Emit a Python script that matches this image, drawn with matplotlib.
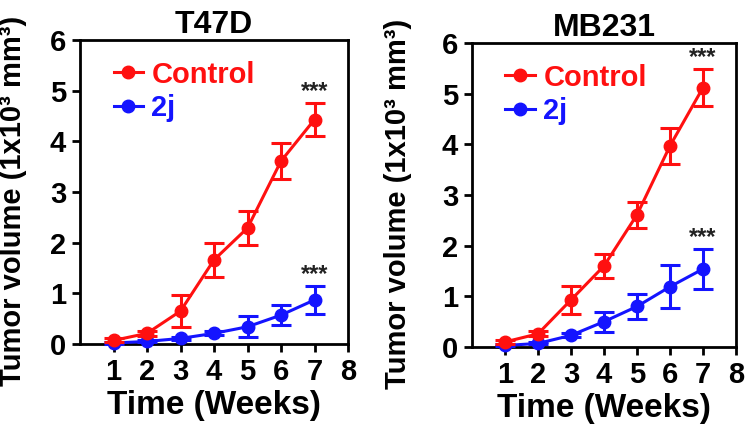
import matplotlib
matplotlib.use("Agg")
import matplotlib.pyplot as plt
from matplotlib.lines import Line2D

plt.rcParams['font.family'] = ['Liberation Sans', 'DejaVu Sans']
plt.rcParams['font.weight'] = 'bold'

weeks = [1, 2, 3, 4, 5, 6, 7]

t47d_control = [0.07, 0.21, 0.65, 1.66, 2.29, 3.61, 4.43]
t47d_control_err = [0.04, 0.05, 0.31, 0.34, 0.33, 0.35, 0.33]
t47d_2j = [0.02, 0.05, 0.11, 0.21, 0.34, 0.57, 0.87]
t47d_2j_err = [0.02, 0.02, 0.03, 0.04, 0.21, 0.20, 0.28]

mb231_control = [0.10, 0.26, 0.93, 1.60, 2.61, 3.97, 5.12]
mb231_control_err = [0.04, 0.05, 0.27, 0.23, 0.26, 0.36, 0.36]
mb231_2j = [0.03, 0.07, 0.23, 0.50, 0.80, 1.19, 1.54]
mb231_2j_err = [0.02, 0.02, 0.04, 0.20, 0.24, 0.43, 0.39]

titles = ["T47D", "MB231"]
series_labels = ["Control", "2j"]
x_ticks = [1, 2, 3, 4, 5, 6, 7, 8]
y_ticks = [0, 1, 2, 3, 4, 5, 6]

RED = "#ff1010"
BLUE = "#1414ff"

fig = plt.figure(figsize=(7.48, 4.38), dpi=100)
W, H = 748, 438

def px_axes(x0, y0, x1, y1):
    return fig.add_axes([x0 / W, 1 - y1 / H, (x1 - x0) / W, (y1 - y0) / H])

axes = [px_axes(80, 40, 348, 344), px_axes(472, 43, 736, 347)]
ylabel_x = [-0.198, -0.228]
data = [
    (t47d_control, t47d_control_err, t47d_2j, t47d_2j_err),
    (mb231_control, mb231_control_err, mb231_2j, mb231_2j_err),
]

for ax, title, lx, (c, ce, j, je) in zip(axes, titles, ylabel_x, data):
    for vals, errs, col, z in [(j, je, BLUE, 3), (c, ce, RED, 4)]:
        ax.errorbar(weeks, vals, yerr=errs, color=col, lw=2.2, marker='o', ms=9,
                    capsize=7, capthick=2.2, elinewidth=2.2,
                    clip_on=False, zorder=z)
    # significance stars
    for vals, errs in [(c, ce), (j, je)]:
        ax.annotate("***", xy=(weeks[-1], vals[-1] + errs[-1]), xytext=(0, 0),
                    textcoords='offset points', ha='center', va='bottom',
                    fontsize=17, fontweight='bold', color='#222222')
    ax.set_xlim(0, 8)
    ax.set_ylim(0, 6)
    ax.set_xticks(x_ticks)
    ax.set_yticks(y_ticks)
    ax.tick_params(direction='out', width=2, length=6, labelsize=21, pad=4)
    for sp in ax.spines.values():
        sp.set_linewidth(2)
    ax.set_title(title, fontsize=23, fontweight='bold', pad=5)
    ax.set_xlabel("Time (Weeks)", fontsize=24, fontweight='bold', labelpad=3)
    ax.set_ylabel("Tumor volume (1x10³ mm³)", fontsize=21, fontweight='bold')
    ax.yaxis.set_label_coords(lx, 0.47)
    handles = [Line2D([], [], color=RED, lw=2.2, marker='o', ms=9),
               Line2D([], [], color=BLUE, lw=2.2, marker='o', ms=9)]
    leg = ax.legend(handles, series_labels,
                    loc='upper left', bbox_to_anchor=(0.06, 0.99), frameon=False,
                    fontsize=21, handlelength=1.0, handletextpad=0.3,
                    labelspacing=0.2, borderaxespad=0.2)
    for txt, col in zip(leg.get_texts(), [RED, BLUE]):
        txt.set_color(col)
        txt.set_fontweight('bold')

fig.savefig("out.png", dpi=100)
